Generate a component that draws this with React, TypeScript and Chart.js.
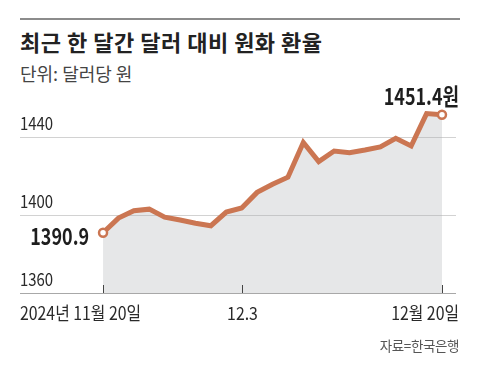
import React, { useEffect, useRef } from "react";
import { Chart, registerables } from "chart.js";

Chart.register(...registerables);

// ---- data ----
const DATES = [
  "2024-11-20", "2024-11-21", "2024-11-22", "2024-11-25", "2024-11-26",
  "2024-11-27", "2024-11-28", "2024-11-29", "2024-12-02", "2024-12-03",
  "2024-12-04", "2024-12-05", "2024-12-06", "2024-12-09", "2024-12-10",
  "2024-12-11", "2024-12-12", "2024-12-13", "2024-12-16", "2024-12-17",
  "2024-12-18", "2024-12-19", "2024-12-20",
];
const RATES = [
  1390.9, 1398.4, 1402.2, 1403.0, 1398.9,
  1397.4, 1395.8, 1394.5, 1401.5, 1403.6,
  1411.6, 1415.8, 1419.4, 1437.2, 1427.4,
  1432.8, 1431.9, 1433.3, 1434.9, 1439.3,
  1435.4, 1452.0, 1451.4,
];
const X_TICK_DATES = ["2024-11-20", "2024-12-03", "2024-12-20"];
const X_TICK_LABELS = ["2024년 11월 20일", "12.3", "12월 20일"];
const Y_TICKS = [1360, 1400, 1440];

const TITLE = "최근 한 달간 달러 대비 원화 환율";
const SUBTITLE = "단위: 달러당 원";
const SOURCE = "자료=한국은행";

const LINE_COLOR = "#cb7652";
const FONT = "'Noto Sans CJK KR', sans-serif";

function drawScaledText(
  ctx: CanvasRenderingContext2D,
  text: string,
  x: number,
  y: number,
  align: "left" | "center" | "right",
  font: string,
  sx: number
) {
  ctx.save();
  ctx.font = font;
  ctx.textAlign = "left";
  ctx.textBaseline = "middle";
  const w = ctx.measureText(text).width * sx;
  let x0 = x;
  if (align === "center") x0 = x - w / 2;
  else if (align === "right") x0 = x - w;
  ctx.translate(x0, y);
  ctx.scale(sx, 1);
  ctx.fillText(text, 0, 0);
  ctx.restore();
}

const labelPlugin = {
  id: "customLabels",
  afterDraw(chart: any) {
    const ctx = chart.ctx as CanvasRenderingContext2D;
    const area = chart.chartArea;
    const xs = chart.scales.x;
    const ys = chart.scales.y;
    ctx.save();

    // y tick labels (above gridlines)
    ctx.fillStyle = "#2a2a2a";
    ys.ticks.forEach((t: any) => {
      const py = ys.getPixelForValue(t.value);
      drawScaledText(ctx, String(t.value), area.left, py - 14, "left", `18px ${FONT}`, 0.83);
    });

    // x tick marks and labels
    const n = xs.ticks.length;
    xs.ticks.forEach((t: any, i: number) => {
      const px = Math.round(xs.getPixelForValue(t.value)) + 0.5;
      ctx.strokeStyle = "#444";
      ctx.lineWidth = 1;
      ctx.beginPath();
      ctx.moveTo(px, area.bottom);
      ctx.lineTo(px, area.bottom - 8);
      ctx.stroke();
      ctx.fillStyle = "#2a2a2a";
      let x = px;
      let align: "left" | "center" | "right" = "center";
      if (i === 0) {
        align = "left";
        x = area.left;
      } else if (i === n - 1) {
        align = "right";
        x = area.right + 3;
      }
      drawScaledText(ctx, X_TICK_LABELS[i], x, area.bottom + 20, align, `18px ${FONT}`, 0.88);
    });

    // end-value annotations
    const meta = chart.getDatasetMeta(0);
    const first = meta.data[0];
    const last = meta.data[meta.data.length - 1];
    ctx.fillStyle = "#1e1e1e";
    drawScaledText(ctx, RATES[0].toFixed(1), first.x - 14, first.y + 4, "right", `bold 23px ${FONT}`, 0.78);
    drawScaledText(
      ctx,
      RATES[RATES.length - 1].toFixed(1) + "원",
      last.x + 17,
      last.y - 19,
      "right",
      `bold 23px ${FONT}`,
      0.78
    );

    ctx.restore();
  },
};

export default function App() {
  const ref = useRef<HTMLCanvasElement>(null);

  useEffect(() => {
    if (!ref.current) return;
    const points = RATES.map((v, i) => ({ x: i, y: v }));
    const lastIdx = RATES.length - 1;
    const chart = new Chart(ref.current, {
      type: "line",
      data: {
        datasets: [
          {
            data: points,
            borderColor: LINE_COLOR,
            borderWidth: 5,
            tension: 0,
            fill: "start",
            backgroundColor: "rgba(172,175,180,0.3)",
            pointRadius: (c: any) => (c.dataIndex === 0 || c.dataIndex === lastIdx ? 4 : 0),
            pointHoverRadius: 0,
            pointBackgroundColor: "#ffffff",
            pointBorderColor: LINE_COLOR,
            pointBorderWidth: 2.5,
            clip: false as any,
          },
        ],
      },
      options: {
        responsive: false,
        animation: false,
        events: [],
        layout: { padding: { left: 20, right: 24, top: 98, bottom: 77 } },
        plugins: { legend: { display: false }, tooltip: { enabled: false } },
        scales: {
          x: {
            type: "linear",
            min: -5.39,
            max: 22.91,
            afterBuildTicks: (s: any) => {
              s.ticks = X_TICK_DATES.map((d) => ({ value: DATES.indexOf(d) }));
            },
            grid: { display: false, drawTicks: false },
            border: { display: false },
            ticks: { display: false },
          },
          y: {
            min: 1360,
            max: 1460,
            afterBuildTicks: (s: any) => {
              s.ticks = Y_TICKS.map((v) => ({ value: v }));
            },
            grid: {
              drawTicks: false,
              color: (c: any) => (c.tick && c.tick.value === Y_TICKS[0] ? "#a8a8a8" : "#d2d2d2"),
              lineWidth: 1,
            },
            border: { display: false },
            ticks: { display: false },
          },
        },
      },
      plugins: [labelPlugin],
    });
    return () => chart.destroy();
  }, []);

  return (
    <div
      style={{
        position: "absolute",
        left: 0,
        top: 0,
        width: 480,
        height: 370,
        background: "#fff",
        overflow: "hidden",
        fontFamily: "'Noto Sans CJK KR', sans-serif",
      }}
    >
      <div style={{ position: "absolute", left: 20, top: 18, width: 440, height: 2, background: "#8c8c8c" }} />
      <div
        style={{
          position: "absolute",
          left: 20,
          top: 30,
          fontSize: 22,
          lineHeight: "22px",
          fontWeight: 700,
          letterSpacing: "0.5px",
          color: "#222",
          whiteSpace: "nowrap",
        }}
      >
        {TITLE}
      </div>
      <div
        style={{
          position: "absolute",
          left: 20,
          top: 64,
          fontSize: 18,
          lineHeight: "18px",
          color: "#444",
          whiteSpace: "nowrap",
        }}
      >
        {SUBTITLE}
      </div>
      <canvas ref={ref} width={480} height={370} style={{ position: "absolute", left: 0, top: 0 }} />
      <div
        style={{
          position: "absolute",
          right: 21,
          top: 339,
          fontSize: 13.5,
          lineHeight: "13.5px",
          letterSpacing: "-0.4px",
          color: "#555",
          whiteSpace: "nowrap",
        }}
      >
        {SOURCE}
      </div>
    </div>
  );
}
